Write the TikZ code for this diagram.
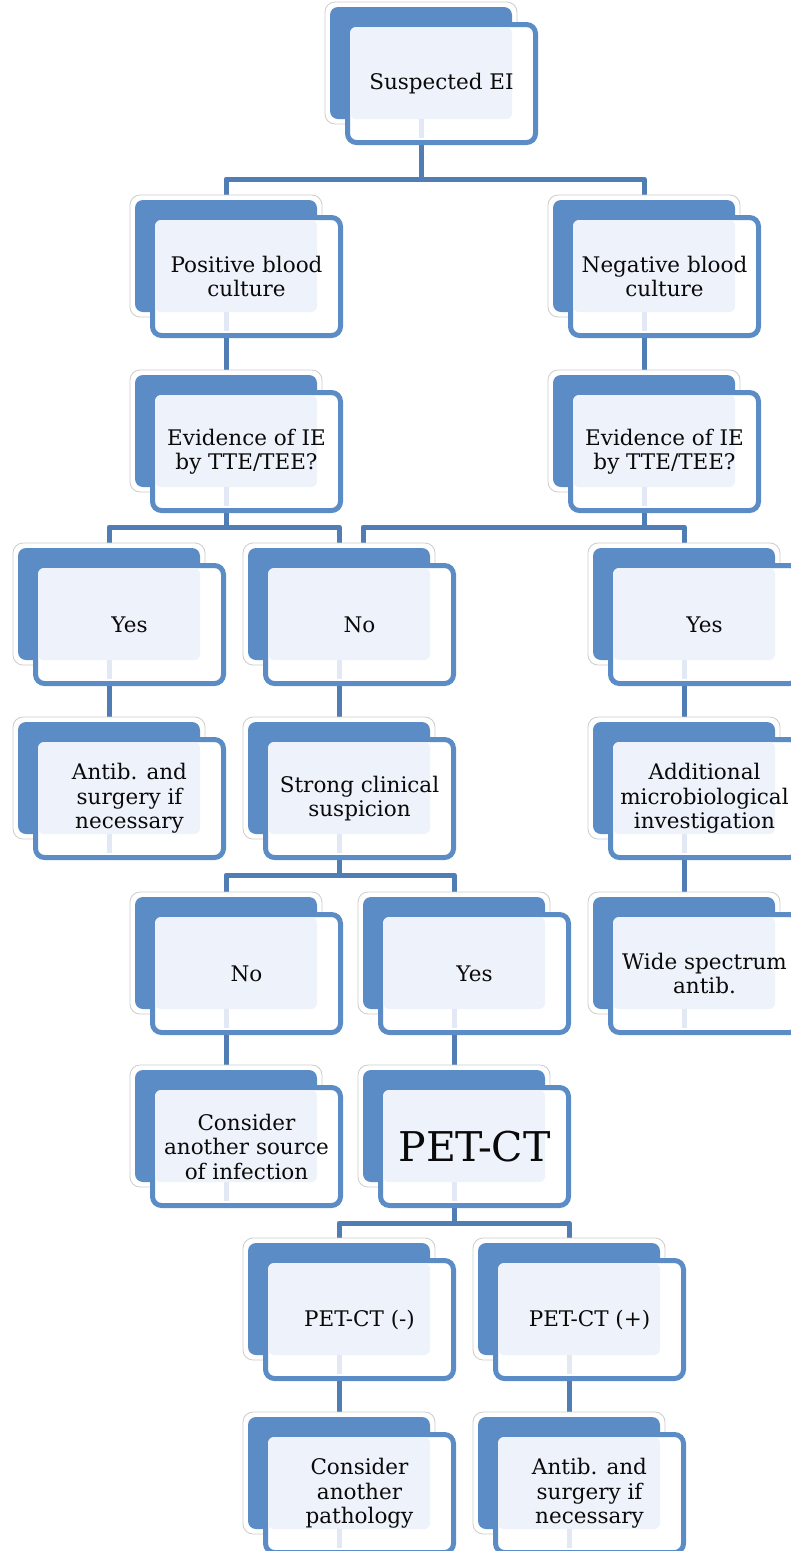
\documentclass[tikz,border=0pt]{standalone}
\usepackage{fontspec}
\setmainfont{DejaVu Serif}
\pgfdeclarelayer{bg}
\pgfsetlayers{bg,main}
\definecolor{boxblue}{RGB}{91,140,198}
\definecolor{connblue}{RGB}{80,125,180}
\definecolor{lightfill}{RGB}{238,242,250}
\definecolor{stubcol}{RGB}{226,233,244}
\definecolor{txtcol}{RGB}{10,10,10}
\tikzset{
  halo/.style={fill=white,draw=black!20,line width=0.8pt,rounded corners=10pt},
  backbox/.style={rectangle,fill=boxblue,draw=none,minimum width=182pt,minimum height=112pt,rounded corners=8pt,outer sep=0pt,inner sep=0pt},
  frontbox/.style={rectangle,fill=white,draw=boxblue,line width=5pt,minimum width=188pt,minimum height=118pt,rounded corners=9pt,outer sep=0pt,inner sep=0pt},
  lightbox/.style={fill=lightfill,rounded corners=6pt},
  stub/.style={draw=stubcol,line width=5pt,shorten >=5pt},
  txt/.style={align=center,text=txtcol,font=\fontsize{21.5}{24.5}\selectfont,inner sep=0pt},
  bigtxt/.style={font=\fontsize{41}{45}\selectfont},
  conn/.style={draw=connblue,line width=5pt,line join=round}
}
\newcommand\ebox[5]{%
  \path[halo] (#2-5,#3-5) rectangle (#2+187,#3+117);
  \node[backbox,anchor=north west] (#1) at (#2,#3) {};
  \node[frontbox,anchor=north west] (#1-f) at (#2+17.5,#3+17.5) {};
  \path[lightbox] (#2+20,#3+20) rectangle (#2+182,#3+112);
  \draw[stub] (#1.south) -- (#1.south |- #1-f.south);
  \node[txt,#5] (#1-t) at (#1-f.center) {#4};
}
\begin{document}
\begin{tikzpicture}[x=1pt,y=-1pt]
\useasboundingbox (0,0) rectangle (791,1551);
\ebox{se}{330}{7}{Suspected EI}{}
\ebox{pos}{135}{200}{Positive blood\\culture}{}
\ebox{neg}{553}{200}{Negative blood\\culture}{}
\ebox{evl}{135}{375}{Evidence of IE\\by TTE/TEE?}{}
\ebox{evr}{553}{375}{Evidence of IE\\by TTE/TEE?}{}
\ebox{yl}{18}{548}{Yes}{}
\ebox{nol}{248}{548}{No}{}
\ebox{yr}{593}{548}{Yes}{}
\ebox{abl}{18}{722}{Antib. and\\surgery if\\necessary}{}
\ebox{scs}{248}{722}{Strong clinical\\suspicion}{}
\ebox{ami}{593}{722}{Additional\\microbiological\\investigation}{}
\ebox{no2}{135}{897}{No}{}
\ebox{ye2}{363}{897}{Yes}{}
\ebox{wsa}{593}{897}{Wide spectrum\\antib.}{}
\ebox{cas}{135}{1070}{Consider\\another source\\of infection}{}
\ebox{pet}{363}{1070}{PET-CT}{bigtxt}
\ebox{pm}{248}{1243}{PET-CT (-)}{}
\ebox{pp}{478}{1243}{PET-CT (+)}{}
\ebox{cap}{248}{1417}{Consider\\another\\pathology}{}
\ebox{ab2}{478}{1417}{Antib. and\\surgery if\\necessary}{}
\coordinate (bar1) at (0,179);
\coordinate (bar3) at (0,527);
\coordinate (bar5) at (0,875);
\coordinate (bar7) at (0,1223);
\begin{pgfonlayer}{bg}
\draw[conn] (se.south) -- (se.south |- bar1) -| (pos.north);
\draw[conn] (se.south |- bar1) -| (neg.north);
\draw[conn] (pos.south) -- (evl.north);
\draw[conn] (neg.south) -- (evr.north);
\draw[conn] (evl.south) -- (evl.south |- bar3) -| (yl.north);
\draw[conn] (evl.south |- bar3) -| (nol.north);
\draw[conn] (evr.south) -- (evr.south |- bar3) -| ([xshift=24pt]nol.north);
\draw[conn] (evr.south |- bar3) -| (yr.north);
\draw[conn] (yl.south) -- (abl.north);
\draw[conn] (nol.south) -- (scs.north);
\draw[conn] (yr.south) -- (ami.north);
\draw[conn] (ami.south) -- (wsa.north);
\draw[conn] (scs.south) -- (scs.south |- bar5) -| (no2.north);
\draw[conn] (scs.south |- bar5) -| (ye2.north);
\draw[conn] (no2.south) -- (cas.north);
\draw[conn] (ye2.south) -- (pet.north);
\draw[conn] (pet.south) -- (pet.south |- bar7) -| (pm.north);
\draw[conn] (pet.south |- bar7) -| (pp.north);
\draw[conn] (pm.south) -- (cap.north);
\draw[conn] (pp.south) -- (ab2.north);
\end{pgfonlayer}
\end{tikzpicture}
\end{document}
